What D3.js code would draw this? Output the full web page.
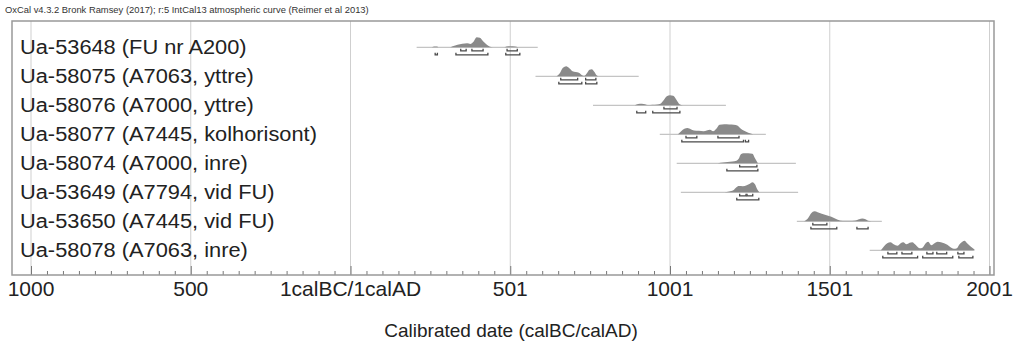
<!DOCTYPE html>
<html><head><meta charset="utf-8">
<script src="https://cdn.jsdelivr.net/npm/d3@7"></script>
<style>body{margin:0;background:#fff}svg{display:block;font-family:"Liberation Sans",Arial,sans-serif}</style>
</head><body><svg id="c" width="1022" height="345"></svg>
<script>
const header = "OxCal v4.3.2 Bronk Ramsey (2017); r:5 IntCal13 atmospheric curve (Reimer et al 2013)";
const axisTitle = "Calibrated date (calBC/calAD)";
const labels = ["Ua-53648 (FU nr A200)","Ua-58075 (A7063, yttre)","Ua-58076 (A7000, yttre)","Ua-58077 (A7445, kolhorisont)","Ua-58074 (A7000, inre)","Ua-53649 (A7794, vid FU)","Ua-53650 (A7445, vid FU)","Ua-58078 (A7063, inre)"];
const tickValues = [-1000,-500,0,500,1000,1500,2000];
const tickLabels = ["1000","500","1calBC/1calAD","501","1001","1501","2001"];
const lineRanges = [[207,586],[579,902],[759,1175],[968,1300],[1021,1394],[1034,1401],[1397,1663],[1625,1951]];
const dist1 = [[255,0],[262,0.08],[270,0.08],[277,0],[310,0],[320,0.1],[335,0.25],[350,0.35],[365,0.4],[375,0.33],[385,0.55],[395,1],[405,0.95],[415,0.6],[425,0.3],[435,0.08],[445,0],[480,0],[488,0.08],[500,0.1],[515,0.08],[525,0]];
const dist2 = [[645,0],[655,0.3],[665,0.85],[675,1],[685,0.8],[695,0.5],[705,0.42],[715,0.35],[725,0.1],[732,0.05],[740,0.3],[748,0.65],[755,0.7],[763,0.45],[770,0.1],[775,0]];
const dist3 = [[890,0],[900,0.12],[912,0.15],[922,0.1],[930,0.03],[945,0.05],[960,0.08],[970,0.15],[980,0.5],[990,0.9],[1000,1],[1010,0.95],[1020,0.55],[1030,0.1],[1040,0]];
const dist4 = [[1025,0],[1035,0.3],[1045,0.55],[1055,0.62],[1065,0.5],[1075,0.38],[1090,0.35],[1105,0.3],[1115,0.38],[1125,0.45],[1135,0.3],[1145,0.55],[1155,0.95],[1170,1],[1185,0.98],[1200,0.95],[1212,0.85],[1220,0.6],[1232,0.35],[1245,0.15],[1260,0]];
const dist5 = [[1150,0],[1165,0.08],[1180,0.12],[1195,0.18],[1208,0.25],[1215,0.45],[1222,0.9],[1230,1],[1245,1],[1258,0.95],[1266,0.5],[1275,0]];
const dist6 = [[1170,0],[1185,0.08],[1198,0.2],[1208,0.5],[1215,0.62],[1228,0.6],[1240,0.7],[1250,0.85],[1258,1],[1266,0.8],[1273,0.3],[1280,0]];
const dist7 = [[1420,0],[1432,0.3],[1442,0.8],[1452,1],[1462,0.9],[1475,0.75],[1490,0.6],[1505,0.45],[1515,0.3],[1525,0.15],[1540,0.06],[1560,0.05],[1580,0.07],[1592,0.2],[1602,0.28],[1612,0.2],[1620,0.05],[1630,0]];
const dist8 = [[1660,0],[1670,0.4],[1680,0.7],[1690,0.8],[1700,0.6],[1712,0.45],[1722,0.7],[1730,0.8],[1740,0.6],[1750,0.75],[1758,0.8],[1770,0.5],[1782,0.2],[1790,0.25],[1798,0.6],[1808,0.85],[1818,0.5],[1828,0.7],[1838,0.85],[1848,0.8],[1858,0.7],[1868,0.55],[1878,0.3],[1888,0.15],[1898,0.2],[1905,0.55],[1915,0.85],[1922,0.95],[1930,0.7],[1940,0.4],[1950,0.15],[1955,0]];
const range68 = [[[345,362],[380,415],[490,522]],[[658,711],[736,768]],[[981,1022]],[[1050,1084],[1150,1216]],[[1218,1272]],[[1218,1238],[1241,1259]],[[1447,1491]],[[1682,1710],[1726,1757],[1804,1823],[1835,1866],[1901,1920]]];
const range95 = [[[265,272],[330,430],[486,530]],[[652,724],[736,771]],[[896,924],[946,1031]],[[1037,1230],[1236,1246]],[[1178,1275]],[[1209,1278]],[[1441,1522],[1585,1620]],[[1666,1775],[1791,1885],[1904,1948]]];
const dists = [dist1,dist2,dist3,dist4,dist5,dist6,dist7,dist8];

const svg = d3.select("#c");
const frame = {l:12, r:994, t:21, b:275};
const x = d3.scaleLinear().domain([-1000,2000]).range([31,989.5]);
const y = d3.scalePoint().domain(labels).range([47.3,250.3]);
const h = d3.scaleLinear().domain([0,1]).range([0,-10]);

svg.append("text").attr("x",5).attr("y",13).attr("font-size",9.4).attr("fill","#333").text(header);

// gridlines
svg.append("g").selectAll("line").data(tickValues).join("line")
  .attr("x1",d=>x(d)).attr("x2",d=>x(d)).attr("y1",frame.t).attr("y2",frame.b)
  .attr("stroke","#cfcfcf").attr("stroke-width",1);

// axis ticks inside (upward)
const minor = d3.range(-1000,2001,50).filter(v=>v%500!==0);
const ax = svg.append("g").attr("transform",`translate(0,${frame.b})`);
ax.call(d3.axisTop(x).tickValues(minor).tickSize(4).tickFormat(""));
ax.select(".domain").remove();
const ax2 = svg.append("g").attr("transform",`translate(0,${frame.b})`);
ax2.call(d3.axisTop(x).tickValues(tickValues).tickSize(9).tickFormat(""));
ax2.select(".domain").remove();
svg.selectAll(".tick line").attr("stroke","#777");
svg.append("g").selectAll("text").data(tickValues).join("text")
  .attr("x",d=>x(d)).attr("y",296).attr("text-anchor","middle").attr("font-size",21).attr("fill","#222")
  .text((d,i)=>tickLabels[i]);

// frame
svg.append("rect").attr("x",frame.l).attr("y",frame.t).attr("width",frame.r-frame.l).attr("height",frame.b-frame.t)
  .attr("fill","none").attr("stroke","#999").attr("stroke-width",1.5);

// rows
const area = d3.area().x(d=>x(d[0])).y0(0).y1(d=>h(d[1])).curve(d3.curveMonotoneX);
labels.forEach((lab,i)=>{
  const g = svg.append("g").attr("transform",`translate(0,${y(lab)})`);
  const t = g.append("text").attr("x",20).attr("y",7).attr("font-size",20).attr("fill","#222").text(lab);
  const w = t.node().getComputedTextLength();
  t.attr("textLength", w*1.09).attr("lengthAdjust","spacingAndGlyphs");
  g.append("line").attr("x1",x(lineRanges[i][0])).attr("x2",x(lineRanges[i][1])).attr("y1",0).attr("y2",0)
    .attr("stroke","#c4c4c4").attr("stroke-width",1.2);
  g.append("path").attr("d",area(dists[i])).attr("fill","#8a8a8a");
  const br = (arr,yy)=>g.append("g").selectAll("path").data(arr).join("path")
    .attr("d",d=>`M${x(d[0])},${yy-2}V${yy}H${x(d[1])}V${yy-2}`)
    .attr("fill","none").attr("stroke","#4a4a4a").attr("stroke-width",1.3);
  br(range68[i],3.5);
  br(range95[i],7.5);
});

svg.append("text").attr("x",511).attr("y",337).attr("text-anchor","middle").attr("font-size",19).attr("fill","#222").text(axisTitle);
</script></body></html>
